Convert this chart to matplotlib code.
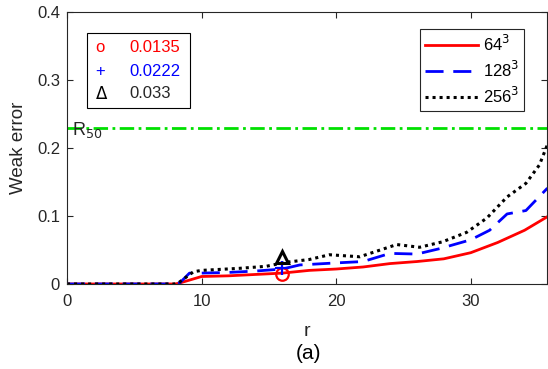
import matplotlib.pyplot as plt
from matplotlib.patches import Rectangle

plt.rcParams['font.family'] = ['Liberation Sans', 'DejaVu Sans']

# curves (r, weak error)
r_64 = [0, 2, 4, 6, 8, 8.3, 10, 12, 14, 16, 18, 20, 22, 24, 26, 28, 30, 32, 34, 35.7]
err_64 = [0, 0, 0, 0, 0, 0.001, 0.011, 0.012, 0.014, 0.016, 0.020, 0.022, 0.025, 0.030, 0.033, 0.037, 0.046, 0.061, 0.079, 0.099]

r_128 = [0, 2, 4, 6, 8, 8.4, 9.1, 10, 12, 14, 16, 17.3, 20, 22, 24, 26, 27.7, 30, 31.4, 32.7, 34.1, 35.7]
err_128 = [0, 0, 0, 0, 0, 0.002, 0.016, 0.016, 0.017, 0.019, 0.022, 0.028, 0.031, 0.033, 0.045, 0.044, 0.052, 0.065, 0.079, 0.103, 0.108, 0.141]

r_256 = [0, 2, 4, 6, 8, 8.3, 9.4, 10, 12.8, 14.8, 16.3, 18, 19.5, 21.75, 24.5, 26.2, 27.9, 29.7, 31.2, 32.7, 34.1, 35.1, 35.7]
err_256 = [0, 0, 0, 0, 0, 0.002, 0.018, 0.020, 0.023, 0.026, 0.032, 0.036, 0.043, 0.040, 0.058, 0.054, 0.062, 0.076, 0.097, 0.128, 0.148, 0.175, 0.205]

r50 = 0.23
mark_r = 16
mark_vals = [0.0147, 0.0235, 0.040]
mark_labels = ['0.0135', '0.0222', '0.033']
mark_styles = ['o', '+', '^']
mark_colors = ['red', 'blue', 'black']

fig = plt.figure(figsize=(5.48, 3.69), dpi=100)
ax = fig.add_axes([0.1223, 0.2304, 0.8767, 0.7371])

gray = '#262626'
ax.axhline(r50, color='#00e000', lw=2, ls=(0, (5.2, 1.6, 1, 1.6)))
ax.plot(r_64, err_64, color='red', lw=2, label='64$^3$')
ax.plot(r_128, err_128, color='blue', lw=2, ls=(0, (6.5, 3.5)), label='128$^3$')
ax.plot(r_256, err_256, color='black', lw=2.2, ls=(0, (1, 1.3)), label='256$^3$')

for v, m, c in zip(mark_vals, mark_styles, mark_colors):
    ax.plot(mark_r, v, marker=m, color=c, ms=9 if m != '+' else 10,
            mfc='none', mew=1.6 if m != '^' else 2.2, ls='none')

ax.text(0.4, 0.241, r'R$_{50}$', fontsize=13, color=gray, va='top', ha='left')

ax.set_xlim(0, 35.7)
ax.set_ylim(0, 0.4)
ax.set_xticks([0, 10, 20, 30])
ax.set_yticks([0, 0.1, 0.2, 0.3, 0.4])
ax.set_yticklabels(['0', '0.1', '0.2', '0.3', '0.4'])
ax.tick_params(direction='in', top=True, right=True, labelsize=12, colors=gray,
               length=4, width=0.8)
ax.tick_params(axis='x', pad=7)
ax.tick_params(axis='y', pad=5)
for s in ax.spines.values():
    s.set_color(gray)
    s.set_linewidth(0.8)
ax.set_xlabel('r', fontsize=14, color=gray, labelpad=10)
ax.set_ylabel('Weak error', fontsize=13.5, color=gray, labelpad=7)

leg = ax.legend(loc='upper right', bbox_to_anchor=(0.952, 0.9375), borderaxespad=0,
                fontsize=12, handlelength=3.2, handletextpad=0.3, labelspacing=0.35,
                fancybox=False, edgecolor=gray, borderpad=0.3, framealpha=1)
leg.get_frame().set_linewidth(0.8)

# marker value box
ax.add_patch(Rectangle((0.042, 0.647), 0.214, 0.275, transform=ax.transAxes,
                       fill=False, edgecolor='black', lw=0.8))
ys = [0.871, 0.781, 0.700]
for y, m, c, lab in zip(ys, ['o', '+', r'$\Delta$'], mark_colors, mark_labels):
    ax.text(0.058, y, m, color=c, fontsize=12, transform=ax.transAxes, va='center', ha='left')
    ax.text(0.13, y, lab, color=c if c != 'black' else gray, fontsize=12,
            transform=ax.transAxes, va='center', ha='left')

fig.text(0.563, 0.042, '(a)', fontsize=15, color='black', ha='center', va='center')

fig.savefig('out.png', dpi=100)
